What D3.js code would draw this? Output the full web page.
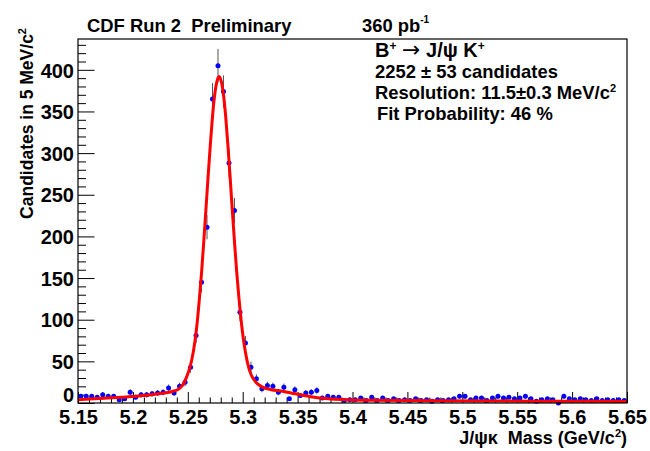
<!DOCTYPE html>
<html>
<head>
<meta charset="utf-8">
<script src="https://cdn.jsdelivr.net/npm/d3@7"></script>
<style>
  html, body { margin: 0; padding: 0; background: #fff; }
  svg { display: block; }
  text { font-family: "Liberation Sans", Arial, Helvetica, sans-serif; font-weight: bold; fill: #000; white-space: pre; }
</style>
</head>
<body>
<svg id="chart" width="650" height="451"></svg>
<script>
// ---- data ----
const binStart = 5.15;      // GeV/c^2
const binWidth = 0.005;     // 5 MeV bins
const counts = [
  8, 8, 8, 7, 10, 8, 8, 4, 5, 13,
  7, 10, 10, 11, 12, 13, 18, 12, 20, 25,
  43, 81, 145, 211, 365, 405, 374, 288, 231, 109,
  72, 43, 29, 17, 21, 20, 13, 19, 5, 16,
  9, 12, 13, 15, 6, 8, 7, 7, 3, 4,
  4, 6, 3, 7, 3, 6, 3, 5, 3, 4,
  3, 5, 3, 4, 2, 4, 3, 4, 5, 8,
  8, 4, 6, 6, 3, 6, 8, 6, 7, 5,
  6, 8, 5, 2, 4, 5, 4, 0, 8, 5,
  4, 5, 4, 3, 5, 3, 4, 3, 4, 3
];
const fitMass = [5.150, 5.170, 5.190, 5.210, 5.225, 5.235, 5.242, 5.2465, 5.250, 5.2535,
  5.2565, 5.2585, 5.2605, 5.2625, 5.2645, 5.2665, 5.2685, 5.2705, 5.2725, 5.2745,
  5.2765, 5.2785, 5.2805, 5.2825, 5.2845, 5.2865, 5.2885, 5.2905, 5.2925, 5.2945,
  5.2965, 5.2985, 5.3005, 5.3025, 5.305, 5.308, 5.312, 5.318, 5.326, 5.335,
  5.348, 5.362, 5.378, 5.395, 5.42, 5.47, 5.53, 5.59, 5.65];
const fitValue = [4, 5.5, 7, 9, 11.5, 13.5, 17, 24, 35, 51,
  74, 96, 124, 156, 193, 232, 272, 310, 344, 370,
  386, 392, 386, 370, 344, 310, 272, 232, 194, 158,
  127, 100, 78, 61, 45, 33, 25, 19, 16, 14.5,
  11, 7.5, 5, 4, 3.3, 2.8, 2.4, 2.1, 1.8];
const xTicks = [5.15, 5.2, 5.25, 5.3, 5.35, 5.4, 5.45, 5.5, 5.55, 5.6, 5.65];
const yTicks = [0, 50, 100, 150, 200, 250, 300, 350, 400];

// ---- layout ----
const L = 78, R = 627, T = 39, B = 403;
const svg = d3.select("#chart");
const x = d3.scaleLinear().domain([5.15, 5.65]).range([L, R]);
const y = d3.scaleLinear().domain([0, 437]).range([B, T]);

const bins = counts.map((c, i) => ({ m: binStart + binWidth * (i + 0.5), n: c }));

// minor ticks
const xMinor = d3.range(0, 51).map(i => 5.15 + i * 0.01).filter(v => !xTicks.some(t => Math.abs(t - v) < 1e-6));
const yMinor = d3.range(0, 44).map(i => i * 10).filter(v => v % 50 !== 0);

const g = svg.append("g");

// x axis (ticks inside the frame)
const xAxis = g.append("g").attr("transform", `translate(0,${B})`)
  .call(d3.axisBottom(x).tickValues(xTicks).tickSize(-11).tickFormat(d3.format("")));
xAxis.select(".domain").remove();
xAxis.selectAll(".tick line").attr("stroke", "#000");
xAxis.selectAll(".tick text").attr("y", 20.5).attr("dy", 0)
  .style("font-size", "20px").style("font-family", "Liberation Sans, Arial, sans-serif").style("font-weight", "bold");
const xAxisMinor = g.append("g").attr("transform", `translate(0,${B})`)
  .call(d3.axisBottom(x).tickValues(xMinor).tickSize(-5.5).tickFormat(""));
xAxisMinor.select(".domain").remove();
xAxisMinor.selectAll(".tick line").attr("stroke", "#000");

// y axis (ticks inside the frame)
const yAxis = g.append("g").attr("transform", `translate(${L},0)`)
  .call(d3.axisLeft(y).tickValues(yTicks).tickSize(-16.5).tickFormat(d3.format("d")));
yAxis.select(".domain").remove();
yAxis.selectAll(".tick text").attr("x", -4).attr("dy", "0.36em")
  .style("font-size", "20px").style("font-family", "Liberation Sans, Arial, sans-serif").style("font-weight", "bold");
yAxis.selectAll(".tick line").attr("stroke", "#000");
// the zero label sits a little higher, clear of the x labels
yAxis.selectAll(".tick text").filter(d => d === 0).attr("dy", "-0.1em");
const yAxisMinor = g.append("g").attr("transform", `translate(${L},0)`)
  .call(d3.axisLeft(y).tickValues(yMinor).tickSize(-8).tickFormat(""));
yAxisMinor.select(".domain").remove();
yAxisMinor.selectAll(".tick line").attr("stroke", "#000");

// error bars
g.append("g").selectAll("line").data(bins).join("line")
  .attr("x1", d => x(d.m)).attr("x2", d => x(d.m))
  .attr("y1", d => y(Math.max(0, d.n - Math.sqrt(d.n))))
  .attr("y2", d => y(d.n + Math.sqrt(d.n)))
  .attr("stroke", "#555").attr("stroke-width", 1);

// markers
g.append("g").selectAll("circle").data(bins).join("circle")
  .attr("cx", d => x(d.m)).attr("cy", d => y(d.n)).attr("r", 2.5)
  .attr("fill", "#0000ff");

// fit curve
const fit = fitMass.map((m, i) => ({ m, v: fitValue[i] }));
g.append("path").datum(fit)
  .attr("fill", "none").attr("stroke", "#ff0000").attr("stroke-width", 3)
  .attr("stroke-linejoin", "round")
  .attr("d", d3.line().x(d => x(d.m)).y(d => y(d.v)).curve(d3.curveMonotoneX));

// frame
g.append("rect").attr("x", L).attr("y", T).attr("width", R - L).attr("height", B - T)
  .attr("fill", "none").attr("stroke", "#000").attr("stroke-width", 1.2);

// axis titles
const yt = svg.append("text").attr("transform", `translate(33,28) rotate(-90)`)
  .attr("text-anchor", "end").style("font-size", "17.5px");
yt.append("tspan").text("Candidates in 5 MeV/c");
yt.append("tspan").attr("dy", -7).style("font-size", "11px").text("2");

const xt = svg.append("text").attr("x", 627).attr("y", 444).attr("text-anchor", "end").style("font-size", "18px");
xt.append("tspan").text("J/ψκ  Mass (GeV/c");
xt.append("tspan").attr("dy", -7).style("font-size", "11px").text("2");
xt.append("tspan").attr("dy", 7).text(")");

// header
svg.append("text").attr("x", 87).attr("y", 32).style("font-size", "18.4px").text("CDF Run 2  Preliminary");
const lum = svg.append("text").attr("x", 362).attr("y", 32).style("font-size", "18.4px");
lum.append("tspan").text("360 pb");
lum.append("tspan").attr("dy", -9).style("font-size", "10px").text("-1");

// legend texts
const t1 = svg.append("text").attr("x", 375).attr("y", 57).style("font-size", "20px");
t1.append("tspan").text("B");
t1.append("tspan").attr("dy", -7).style("font-size", "12px").text("+");
t1.append("tspan").attr("dy", 7).text(" ");
t1.append("tspan").style("font-family", "DejaVu Sans").style("font-weight", "normal").style("font-size", "22px").text("→");
t1.append("tspan").text(" J/ψ K");
t1.append("tspan").attr("dy", -7).style("font-size", "12px").text("+");

svg.append("text").attr("x", 375).attr("y", 78).style("font-size", "18.4px").text("2252 ± 53 candidates");
const t3 = svg.append("text").attr("x", 375).attr("y", 99).style("font-size", "18.4px");
t3.append("tspan").text("Resolution: 11.5±0.3 MeV/c");
t3.append("tspan").attr("dy", -7).style("font-size", "11px").text("2");
svg.append("text").attr("x", 377).attr("y", 120).style("font-size", "18.4px").text("Fit Probability: 46 %");
</script>
</body>
</html>
